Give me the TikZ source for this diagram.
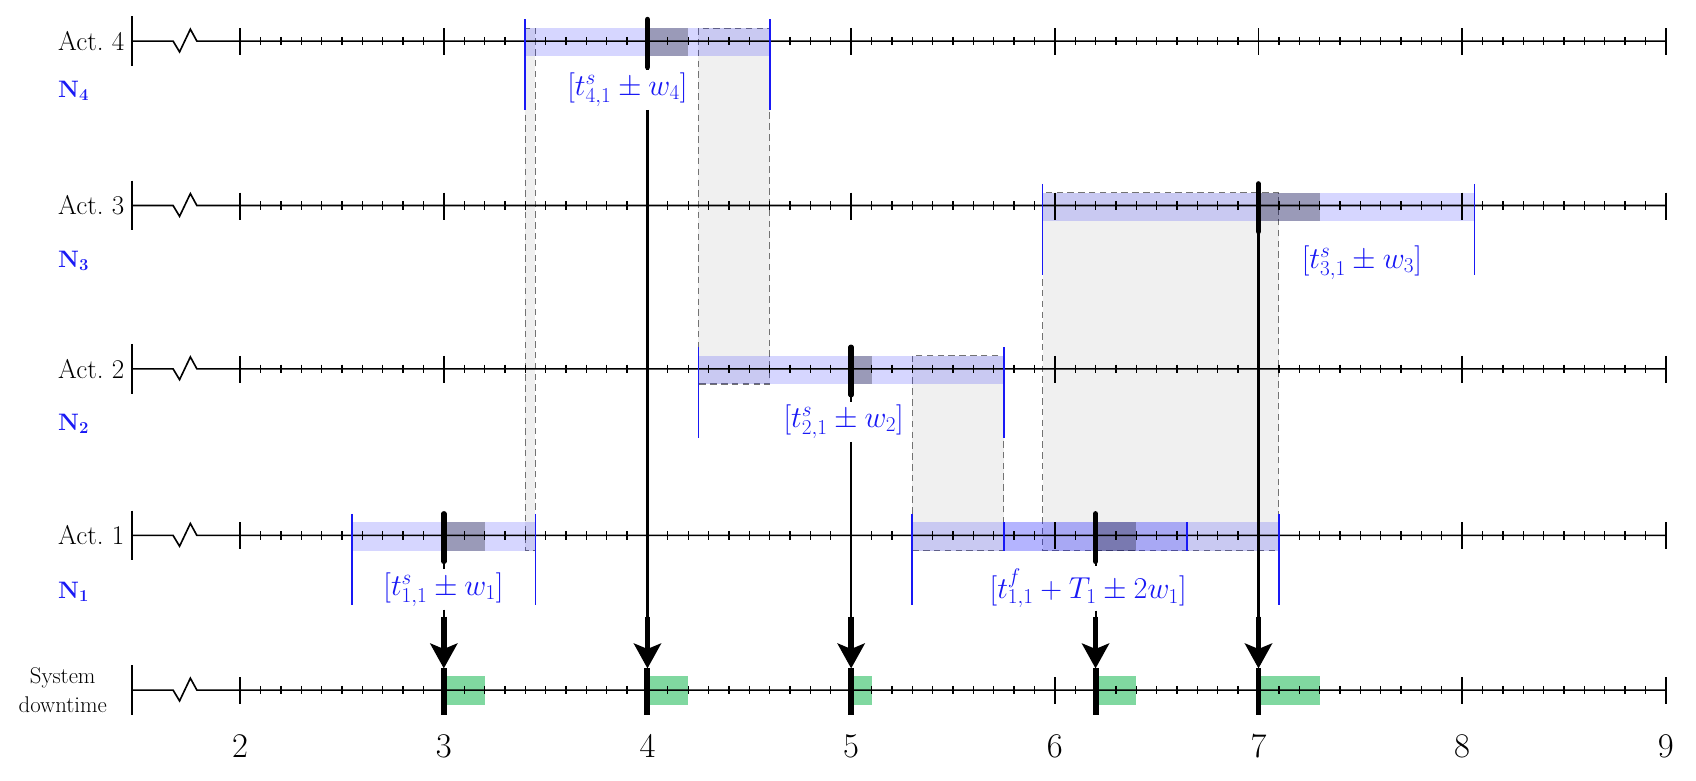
\RequirePackage{fix-cm}
\documentclass[tikz,border=0pt]{standalone}
\usetikzlibrary{arrows.meta}
\definecolor{wblue}{RGB}{25,25,245}
\definecolor{dgreen}{RGB}{128,216,160}
\definecolor{boxgray}{RGB}{240,240,240}
\definecolor{dashgray}{RGB}{115,115,115}
\tikzset{
  axisln/.style={line width=1.5pt, black},
  mintick/.style={line width=1.2pt},
  majtick/.style={line width=1.3pt},
  band/.style={fill=blue, fill opacity=0.16},
  dur/.style={fill=black, fill opacity=0.28},
  ovl/.style={fill=boxgray, draw=dashgray, dash pattern=on 6pt off 4pt, line width=1.1pt},
  winline/.style={draw=wblue, line width=1.6pt},
  markerln/.style={line width=5pt, line cap=round},
  sysmarker/.style={line width=5.5pt},
  conn/.style={line width=1.9pt},
  shaft/.style={line width=5pt, -{Stealth[length=23pt,width=25pt,inset=5pt]}},
  downbox/.style={fill=dgreen},
  actlbl/.style={font=\fontsize{25}{30}\selectfont, anchor=east, inner sep=0pt},
  nlbl/.style={font=\fontsize{22}{26}\selectfont\bfseries, text=wblue, inner sep=0pt},
  syslbl/.style={font=\fontsize{21}{27}\selectfont, align=center, inner sep=0pt},
  wlbl/.style={font=\fontsize{28}{33}\selectfont, text=wblue, inner sep=2.5pt},
  numlbl/.style={font=\fontsize{32}{36}\selectfont, inner sep=0pt},
}
\newcommand\X[1]{222+(#1-2)*188.3}
\newcommand\axisrow[1]{%
  \draw[axisln] (122,#1-23) -- (122,#1+23);
  \draw[axisln] (122,#1) -- (160,#1) -- (166,#1+10) -- (176,#1-11) -- (182,#1) -- ({\X{9}},#1);
  \foreach \i in {2,...,9}{\draw[majtick] ({\X{\i}},#1-12) -- ({\X{\i}},#1+13);}
  \foreach \i in {2,...,8}{\foreach \j in {1,...,9}{%
    \draw[mintick] ({\X{\i+\j/10}},#1-4) -- ({\X{\i+\j/10}},#1+4);}}
}
\begin{document}
\begin{tikzpicture}[x=1pt,y=-1pt]
\useasboundingbox (0,0) rectangle (1568,722);

% overlap boxes
\path[ovl] ({\X{3.4}},26) rectangle ({\X{3.45}},509);
\path[ovl] ({\X{4.25}},26) rectangle ({\X{4.6}},355);
\path[ovl] ({\X{5.3}},329) rectangle ({\X{5.75}},509);
\path[ovl] ({\X{5.94}},178) rectangle ({\X{7.1}},509);

% windows (bands)
\fill[band] ({\X{3.4}},26) rectangle ({\X{4.6}},52);
\fill[band] ({\X{5.94}},178) rectangle ({\X{8.06}},204);
\fill[band] ({\X{4.25}},329) rectangle ({\X{5.75}},355);
\fill[band] ({\X{2.55}},483) rectangle ({\X{3.45}},509);
\fill[band] ({\X{5.3}},483) rectangle ({\X{7.1}},509);
\fill[band] ({\X{5.75}},483) rectangle ({\X{6.65}},509);

% durations
\fill[dur] ({\X{4}},26) rectangle ({\X{4.2}},52);
\fill[dur] ({\X{7}},178) rectangle ({\X{7.3}},204);
\fill[dur] ({\X{5}},329) rectangle ({\X{5.1}},355);
\fill[dur] ({\X{3}},483) rectangle ({\X{3.2}},509);
\fill[dur] ({\X{6.2}},483) rectangle ({\X{6.4}},509);

% system downtime boxes
\fill[downbox] ({\X{3}},625) rectangle ({\X{3.2}},652);
\fill[downbox] ({\X{4}},625) rectangle ({\X{4.2}},652);
\fill[downbox] ({\X{5}},625) rectangle ({\X{5.1}},652);
\fill[downbox] ({\X{6.2}},625) rectangle ({\X{6.4}},652);
\fill[downbox] ({\X{7}},625) rectangle ({\X{7.3}},652);

% axes
\axisrow{38}
\axisrow{190}
\axisrow{341}
\axisrow{495}
\axisrow{638}

% window edges
\foreach \t/\y in {3.4/38, 4.6/38, 5.94/190, 8.06/190, 4.25/341, 5.75/341, 2.55/495, 3.45/495, 5.3/495, 7.1/495}
  \draw[winline] ({\X{\t}},\y-20) -- ({\X{\t}},\y+64);
\foreach \t in {5.75,6.65}
  \draw[winline] ({\X{\t}},483) -- ({\X{\t}},509);

% coordinates of markers
\coordinate (m4t) at ({\X{4}},18);   \coordinate (m4b) at ({\X{4}},62);
\coordinate (m3t) at ({\X{7}},170);  \coordinate (m3b) at ({\X{7}},214);
\coordinate (m2t) at ({\X{5}},321);  \coordinate (m2b) at ({\X{5}},365);
\coordinate (m1t) at ({\X{3}},475);  \coordinate (m1b) at ({\X{3}},519);
\coordinate (m5t) at ({\X{6.2}},475);\coordinate (m5b) at ({\X{6.2}},519);
\foreach \n/\t in {1/3, 2/5, 3/7, 4/4, 5/6.2}{
  \coordinate (c\n) at ({\X{\t}},570);
  \coordinate (s\n t) at ({\X{\t}},618);
  \coordinate (s\n b) at ({\X{\t}},661);
}

% window labels
\node[wlbl] (l4) at (580,83) {$[t^{s}_{4,1}\pm w_4]$};
\node[wlbl] (l3) at (1259,243) {$[t^{s}_{3,1}\pm w_3]$};
\node[wlbl] (l2) at (780,390) {$[t^{s}_{2,1}\pm w_2]$};
\node[wlbl] (l1) at (410,545) {$[t^{s}_{1,1}\pm w_1]$};
\node[wlbl] (l5) at (1006,544) {$[t^{f}_{1,1}+T_1\pm 2w_1]$};

% connectors
\draw[conn] (m4b) -- (m4b |- l4.north);
\draw[conn] (m4b |- l4.south) -- (c4);
\draw[shaft] (c4) -- (s4t);
\draw[conn] (m3b) -- (c3);
\draw[shaft] (c3) -- (s3t);
\draw[conn] (m2b) -- (m2b |- l2.north);
\draw[conn] (m2b |- l2.south) -- (c2);
\draw[shaft] (c2) -- (s2t);
\draw[conn] (m1b) -- (m1b |- l1.north);
\draw[conn] (m1b |- l1.south) -- (c1);
\draw[shaft] (c1) -- (s1t);
\draw[conn] (m5b) -- (m5b |- l5.north);
\draw[conn] (m5b |- l5.south) -- (c5);
\draw[shaft] (c5) -- (s5t);

% markers
\foreach \n in {1,...,5}{
  \draw[markerln] (m\n t) -- (m\n b);
  \draw[sysmarker] (s\n t) -- (s\n b);
}

% row labels
\node[actlbl] (act4) at (115,38) {Act.\ 4};
\node[actlbl] (act3) at (115,190) {Act.\ 3};
\node[actlbl] (act2) at (115,341) {Act.\ 2};
\node[actlbl] (act1) at (115,495) {Act.\ 1};
\node[nlbl] (n4) at (68,84) {N$_{\mathbf{4}}$};
\node[nlbl] (n3) at (68,241) {N$_{\mathbf{3}}$};
\node[nlbl] (n2) at (68,392) {N$_{\mathbf{2}}$};
\node[nlbl] (n1) at (68,547) {N$_{\mathbf{1}}$};
\node[syslbl] (sys) at (58,638) {System\\downtime};

% axis numbers
\foreach \i in {2,...,9}
  \node[numlbl] (num\i) at ({\X{\i}},690) {\i};
\end{tikzpicture}
\end{document}
